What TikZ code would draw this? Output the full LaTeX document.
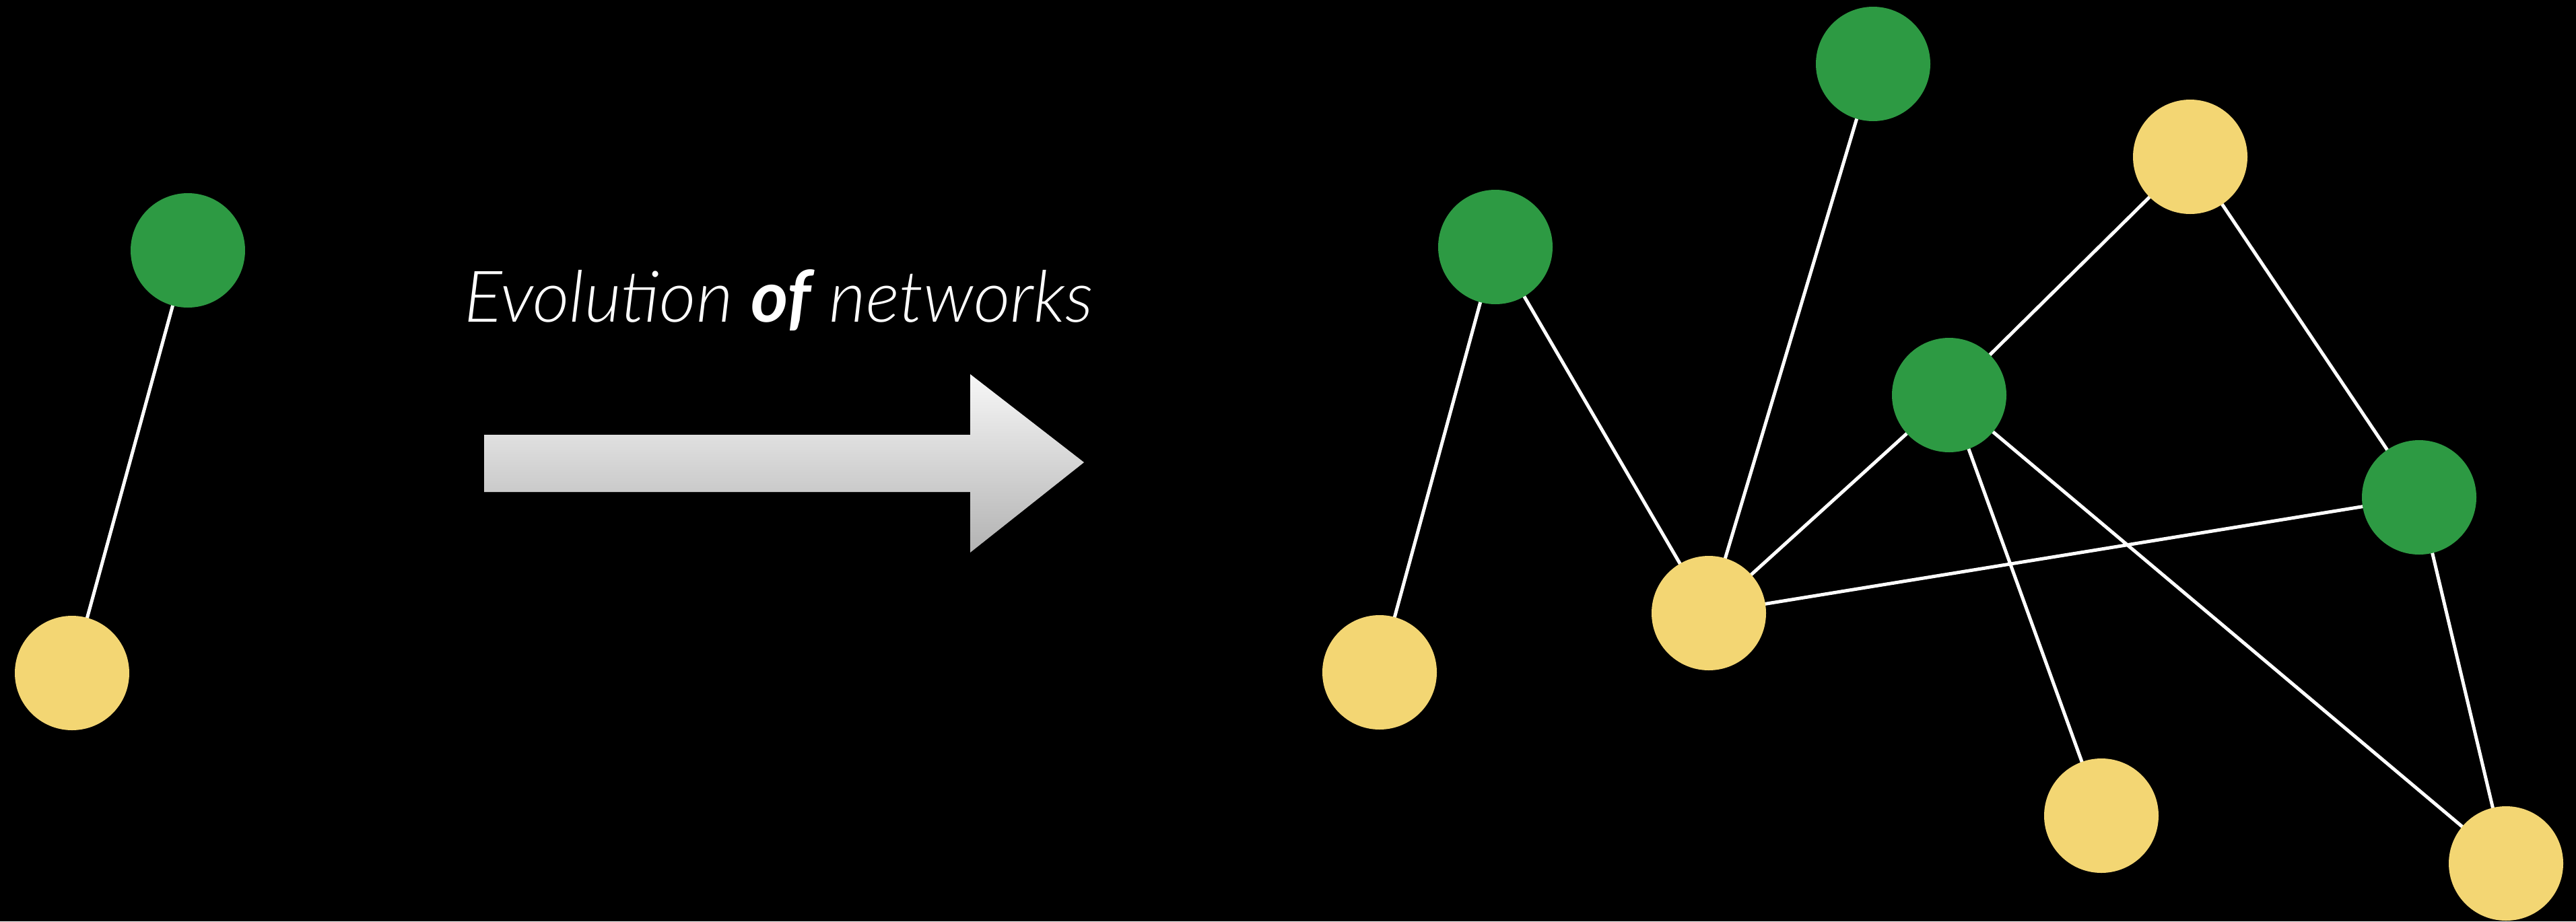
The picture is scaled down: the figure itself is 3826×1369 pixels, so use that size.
\documentclass[tikz,border=0pt]{standalone}
\usepackage{fontspec}
\newfontfamily\latolight{Lato Light}
\newfontfamily\lato{Lato}
\usetikzlibrary{backgrounds}
\pgfdeclarelayer{bg}
\pgfdeclarelayer{edges}
\pgfsetlayers{bg,edges,main}
\definecolor{ngreen}{HTML}{2D9A43}
\definecolor{nyellow}{HTML}{F3D673}
\tikzset{
  gnode/.style={circle, fill=ngreen, minimum size=170pt, inner sep=0pt},
  ynode/.style={circle, fill=nyellow, minimum size=170pt, inner sep=0pt},
  link/.style={draw=white, line width=5pt}
}
\begin{document}
\begin{tikzpicture}[x=1pt,y=-1pt]
\begin{pgfonlayer}{bg}
\fill[black] (0,0) rectangle (3826,1369);
\end{pgfonlayer}
\useasboundingbox (0,0) rectangle (3826,1369);
% left pair
\node[gnode] (lg) at (279,372) {};
\node[ynode] (ly) at (107,1000) {};
% right network
\node[gnode] (g1) at (2221,367) {};
\node[gnode] (g2) at (2782,95) {};
\node[ynode] (y1) at (3253,233) {};
\node[gnode] (g3) at (2895,587) {};
\node[gnode] (g4) at (3593,739) {};
\node[ynode] (yc) at (2538,911) {};
\node[ynode] (yl) at (2049,999) {};
\node[ynode] (yb) at (3121,1212) {};
\node[ynode] (ybr) at (3722,1283) {};
\begin{pgfonlayer}{edges}
\draw[link] (lg.center) -- (ly.center);
\draw[link] (g1.center) -- (yl.center);
\draw[link] (g1.center) -- (yc.center);
\draw[link] (g2.center) -- (yc.center);
\draw[link] (y1.center) -- (g3.center);
\draw[link] (y1.center) -- (g4.center);
\draw[link] (g3.center) -- (yc.center);
\draw[link] (g3.center) -- (yb.center);
\draw[link] (g3.center) -- (ybr.center);
\draw[link] (yc.center) -- (g4.center);
\draw[link] (g4.center) -- (ybr.center);
\end{pgfonlayer}
% arrow
\shade[top color=white!97!black, bottom color=white!70!black]
  (719,646) -- (1441,646) -- (1441,556) -- (1610,687) -- (1441,821) -- (1441,731) -- (719,731) -- cycle;
\node[anchor=base west, inner sep=0pt, text=white] (title) at (689,478)
  {\fontsize{106}{110}\selectfont\latolight\itshape Evolution {\lato\bfseries\itshape of} networks};
\end{tikzpicture}
\end{document}
